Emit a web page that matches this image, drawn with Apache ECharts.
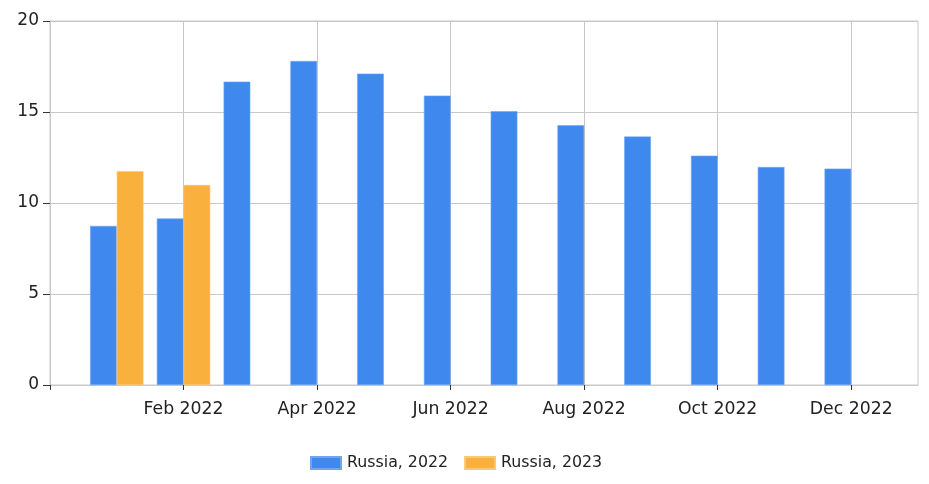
<!DOCTYPE html>
<html>
<head>
<meta charset="utf-8">
<script src="https://cdn.jsdelivr.net/npm/echarts@6/dist/echarts.min.js"></script>
<style>
html,body{margin:0;padding:0;background:#fff;}
#chart{width:929px;height:484px;}
</style>
</head>
<body>
<div id="chart"></div>
<script>
var categories = ['Dec 2021','Jan 2022','Feb 2022','Mar 2022','Apr 2022','May 2022','Jun 2022','Jul 2022','Aug 2022','Sep 2022','Oct 2022','Nov 2022','Dec 2022','Jan 2023'];
var russia2022 = ['-', 8.74, 9.15, 16.67, 17.8, 17.11, 15.9, 15.04, 14.27, 13.65, 12.6, 11.98, 11.89, '-'];
var russia2023 = ['-', 11.75, 10.99, '-', '-', '-', '-', '-', '-', '-', '-', '-', '-', '-'];
var yTicks = {min: 0, max: 20, interval: 5};

var shown = function (i) { return i % 2 === 0 && i > 0 && i < categories.length - 1; };
var chart = echarts.init(document.getElementById('chart'));
chart.setOption({
  animation: false,
  textStyle: {fontFamily: 'DejaVu Sans'},
  grid: {left: 50, right: 11, top: 21, bottom: 99, show: true, borderColor: '#c8c8c8', borderWidth: 1},
  legend: {
    bottom: 8, left: 305, itemWidth: 30, itemHeight: 12, itemGap: 16,
    icon: 'rect',
    textStyle: {fontSize: 15.8, color: '#222', fontFamily: 'DejaVu Sans', padding: [0, 0, 0, 1]},
    data: ['Russia, 2022', 'Russia, 2023']
  },
  xAxis: {
    type: 'category',
    data: categories,
    boundaryGap: false,
    axisLine: {lineStyle: {color: '#c8c8c8'}},
    axisTick: {show: true, length: 5, interval: function (i) { return i === 0 || shown(i); }, lineStyle: {color: '#333'}},
    axisLabel: {interval: function (i) { return shown(i); }, fontSize: 17.3, color: '#222', margin: 16, fontFamily: 'DejaVu Sans'},
    splitLine: {show: true, interval: function (i) { return shown(i); }, lineStyle: {color: '#c8c8c8'}}
  },
  yAxis: {
    type: 'value',
    min: yTicks.min, max: yTicks.max, interval: yTicks.interval,
    axisLine: {show: true, lineStyle: {color: '#c8c8c8'}},
    axisTick: {show: true, length: 7, lineStyle: {color: '#333'}},
    axisLabel: {fontSize: 17, color: '#222', margin: 11, fontFamily: 'DejaVu Sans'},
    splitLine: {show: true, lineStyle: {color: '#c8c8c8'}}
  },
  series: [
    {name: 'Russia, 2022', type: 'bar', data: russia2022, barGap: 0, barCategoryGap: '20%',
     itemStyle: {color: '#3F88EE', borderColor: '#6FA6F2', borderWidth: 0.6}},
    {name: 'Russia, 2023', type: 'bar', data: russia2023, barGap: 0, barCategoryGap: '20%',
     itemStyle: {color: '#FAB03D', borderColor: '#FCC873', borderWidth: 0.6}}
  ]
});
</script>
</body>
</html>
